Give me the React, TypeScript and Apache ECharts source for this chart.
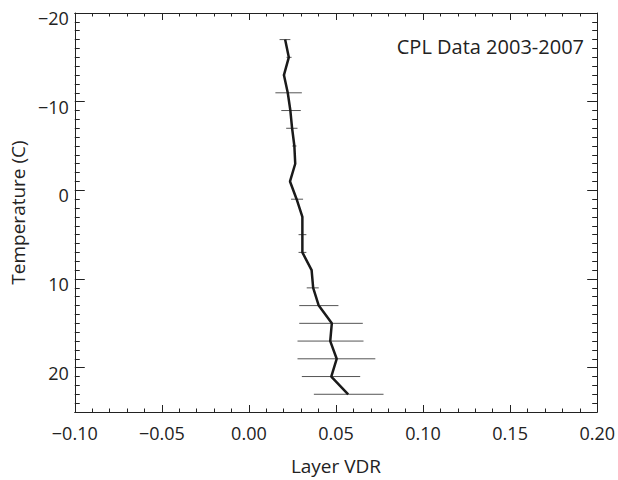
import React, { useEffect, useRef } from "react";
import * as echarts from "echarts";

const temps = [-17, -15, -13, -11, -9, -7, -5, -3, -1, 1, 3, 5, 7, 9, 11, 13, 15, 17, 19, 21, 23];
const vdr = [0.0208, 0.0229, 0.0201, 0.0223, 0.0238, 0.0248, 0.0261, 0.0266, 0.0236, 0.0274, 0.0307, 0.0307, 0.0307, 0.036, 0.0369, 0.0401, 0.0476, 0.0467, 0.0504, 0.0473, 0.057];
const errLow = [0.0176, 0.0216, 0.0195, 0.0152, 0.0186, 0.0214, 0.0249, 0.0262, 0.0231, 0.0242, 0.0303, 0.0285, 0.0285, 0.0356, 0.0332, 0.0289, 0.0289, 0.0279, 0.0279, 0.0304, 0.0373];
const errHigh = [0.0238, 0.0245, 0.0208, 0.0304, 0.0298, 0.0279, 0.0273, 0.027, 0.0242, 0.0311, 0.0311, 0.033, 0.033, 0.0364, 0.0401, 0.0514, 0.0654, 0.0658, 0.0726, 0.0639, 0.0773];
const yTickLabels = ["\u221220", "\u221210", "0", "10", "20"];
const xTickLabels = ["\u22120.10", "\u22120.05", "0.00", "0.05", "0.10", "0.15", "0.20"];

const FONT = "Open Sans";

export default function App() {
  const ref = useRef<HTMLDivElement>(null);
  useEffect(() => {
    if (!ref.current) return;
    const chart = echarts.init(ref.current, null, { renderer: "svg" });
    const axisLine = { show: true, onZero: false, lineStyle: { color: "#222", width: 1 } };
    const xTick = { show: true, inside: true, length: 7, lineStyle: { color: "#222" } };
    const xMinor = { show: true, splitNumber: 5, length: 3.5, lineStyle: { color: "#222" } };
    const yTick = { show: true, inside: true, length: 10, lineStyle: { color: "#222" } };
    const yMinor = { show: true, splitNumber: 10, length: 5, lineStyle: { color: "#222" } };
    chart.setOption({
      animation: false,
      backgroundColor: "#fff",
      grid: { left: 66, top: 13, width: 533, height: 406, containLabel: false },
      xAxis: [
        {
          type: "value",
          min: -0.1,
          max: 0.2,
          interval: 0.05,
          position: "bottom",
          name: "Layer VDR",
          nameLocation: "middle",
          nameGap: 44,
          nameTextStyle: { fontFamily: FONT, fontSize: 19, color: "#222" },
          axisLine,
          axisTick: xTick,
          minorTick: xMinor,
          splitLine: { show: false },
          axisLabel: {
            fontFamily: FONT,
            fontSize: 18,
            color: "#222",
            margin: 12,
            formatter: (v: number) => xTickLabels[Math.round((v + 0.1) / 0.05)] ?? "",
          },
        },
        {
          type: "value",
          min: -0.1,
          max: 0.2,
          interval: 0.05,
          position: "top",
          axisLine,
          axisTick: xTick,
          minorTick: xMinor,
          splitLine: { show: false },
          axisLabel: { show: false },
        },
      ],
      yAxis: [
        {
          type: "value",
          min: -20,
          max: 25,
          interval: 10,
          inverse: true,
          position: "left",
          name: "Temperature (C)",
          nameLocation: "middle",
          nameGap: 35,
          nameTextStyle: { fontFamily: FONT, fontSize: 19, color: "#222" },
          axisLine,
          axisTick: yTick,
          minorTick: yMinor,
          splitLine: { show: false },
          axisLabel: {
            fontFamily: FONT,
            fontSize: 18,
            color: "#222",
            margin: 6,
            verticalAlign: "top",
            lineHeight: 10,
            showMaxLabel: false,
            formatter: (v: number) => yTickLabels[Math.round((v + 20) / 10)] ?? "",
          },
        },
        {
          type: "value",
          min: -20,
          max: 25,
          interval: 10,
          inverse: true,
          position: "right",
          axisLine,
          axisTick: yTick,
          minorTick: yMinor,
          splitLine: { show: false },
          axisLabel: { show: false },
        },
      ],
      graphic: [
        {
          type: "text",
          x: 584,
          y: 46,
          style: {
            text: "CPL Data 2003-2007",
            fontFamily: FONT,
            fontSize: 20,
            fill: "#222",
            align: "right",
            verticalAlign: "middle",
          },
        },
      ],
      series: [
        {
          type: "custom",
          xAxisIndex: 0,
          yAxisIndex: 0,
          data: temps.map((t, i) => [errLow[i], errHigh[i], t]),
          encode: { x: [0, 1], y: 2 },
          renderItem: (params: any, api: any) => {
            const lo = api.coord([api.value(0), api.value(2)]);
            const hi = api.coord([api.value(1), api.value(2)]);
            return {
              type: "line",
              shape: { x1: lo[0], y1: lo[1], x2: hi[0], y2: hi[1] },
              style: { stroke: "#555", lineWidth: 1 },
            };
          },
          z: 1,
        },
        {
          type: "line",
          xAxisIndex: 0,
          yAxisIndex: 0,
          data: temps.map((t, i) => [vdr[i], t]),
          showSymbol: false,
          symbol: "none",
          lineStyle: { color: "#1a1a1a", width: 2.5 },
          z: 3,
        },
      ],
    });
    return () => chart.dispose();
  }, []);
  return (
    <div
      ref={ref}
      style={{ position: "fixed", left: 0, top: 0, width: 618, height: 480 }}
    />
  );
}
